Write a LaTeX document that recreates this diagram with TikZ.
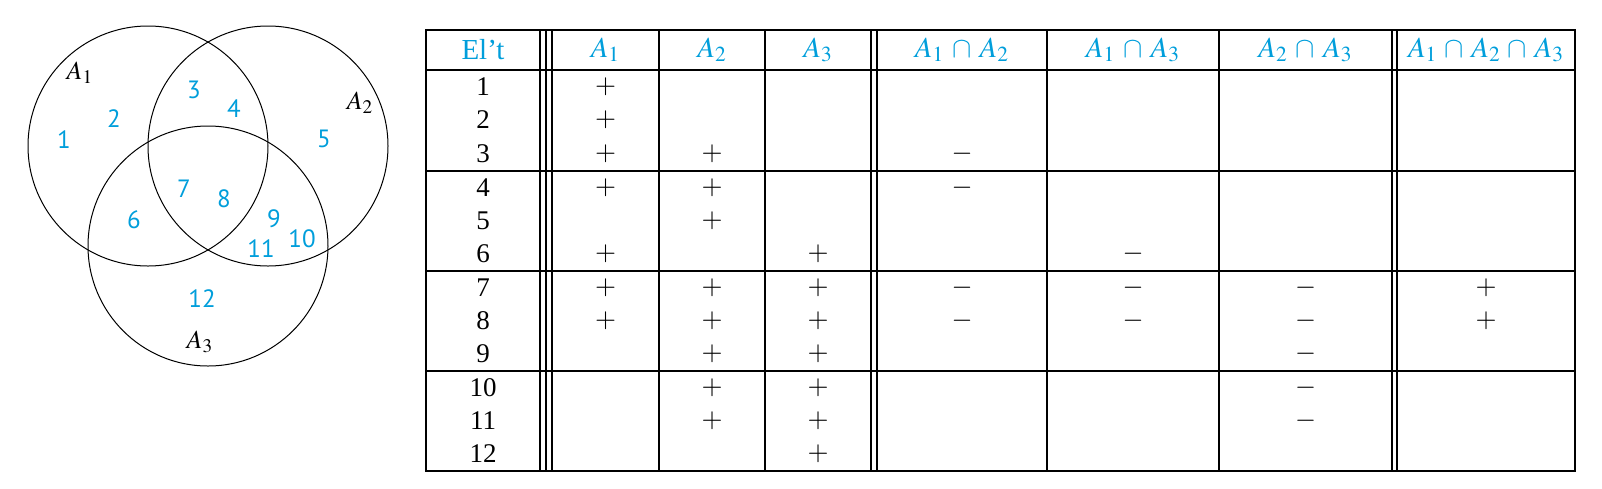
\documentclass[tikz,border=0pt]{standalone}
\usepackage{mathptmx}
\usepackage[no-math]{fontspec}
\setmainfont{Liberation Serif}
\newfontfamily\vennfont{PT Sans}

\definecolor{setblue}{RGB}{0,158,219}

\tikzset{
	elt/.style={text=setblue,font=\vennfont\fontsize{12.5}{14}\selectfont},
	setname/.style={font=\fontsize{13}{15}\selectfont},
	head/.style={text=setblue,font=\fontsize{14.5}{16}\selectfont},
	cell/.style={font=\fontsize{13.5}{15}\selectfont},
	rule/.style={line width=0.7pt}
}

\begin{document}
\begin{tikzpicture}[x=0.5pt,y=-0.5pt]
\useasboundingbox (0,0) rectangle (1602,488);

%%% VENN DIAGRAM
\draw[line width=0.5pt] (148,146) circle (60pt);
\draw[line width=0.5pt] (268,146) circle (60pt);
\draw[line width=0.5pt] (208,246) circle (60pt);

% set names
\node[setname] (nA1) at (80,73) {$A_1$};
\node[setname] (nA2) at (360,103) {$A_2$};
\node[setname] (nA3) at (200,342) {$A_3$};

% elements
\foreach \n/\x/\y in {1/64/140, 2/114/119, 3/194/90, 4/234/109, 5/324/139,
	6/134/220, 7/184/189, 8/224/199, 9/274/219, 10/302/239, 11/261/249, 12/202/299}
	\node[elt] (e\n) at (\x,\y) {\n};

%%% TABLE
% frame and rules
\draw[rule] (426,30) rectangle (1575,471);
\foreach \y in {70,171,271,371}
	\draw[rule] (426,\y) -- (1575,\y);
\foreach \x in {540,546,552,659,765,871,877,1047,1219,1392,1397}
	\draw[rule] (\x,30) -- (\x,471);

% header
\node[head] (cE) at (483,50) {El't};
\node[head] (cA) at (605.5,50) {$A_1$};
\node[head] (cB) at (712,50) {$A_2$};
\node[head] (cC) at (818,50) {$A_3$};
\node[head] (cAB) at (962,50) {$A_1\:\cap\:A_2$};
\node[head] (cAC) at (1133,50) {$A_1\:\cap\:A_3$};
\node[head] (cBC) at (1305.5,50) {$A_2\:\cap\:A_3$};
\node[head] (cABC) at (1486,50) {$A_1\,\cap\,A_2\,\cap\,A_3$};

% element column
\foreach \r/\y in {1/87, 2/120, 3/154, 4/188, 5/221, 6/254,
	7/288, 8/321, 9/354, 10/388, 11/421, 12/454}
	\node[cell] (r\r) at (483,\y) {\r};

% plus signs
\foreach \c/\r in {cA/1, cA/2, cA/3, cA/4, cA/6, cA/7, cA/8,
	cB/3, cB/4, cB/5, cB/7, cB/8, cB/9, cB/10, cB/11,
	cC/6, cC/7, cC/8, cC/9, cC/10, cC/11, cC/12,
	cABC/7, cABC/8}
	\node[cell] (p\c-\r) at (\c |- r\r) {$+$};

% minus signs
\foreach \c/\r in {cAB/3, cAB/4, cAB/7, cAB/8,
	cAC/6, cAC/7, cAC/8,
	cBC/7, cBC/8, cBC/9, cBC/10, cBC/11}
	\node[cell] (m\c-\r) at (\c |- r\r) {$-$};
\end{tikzpicture}
\end{document}
